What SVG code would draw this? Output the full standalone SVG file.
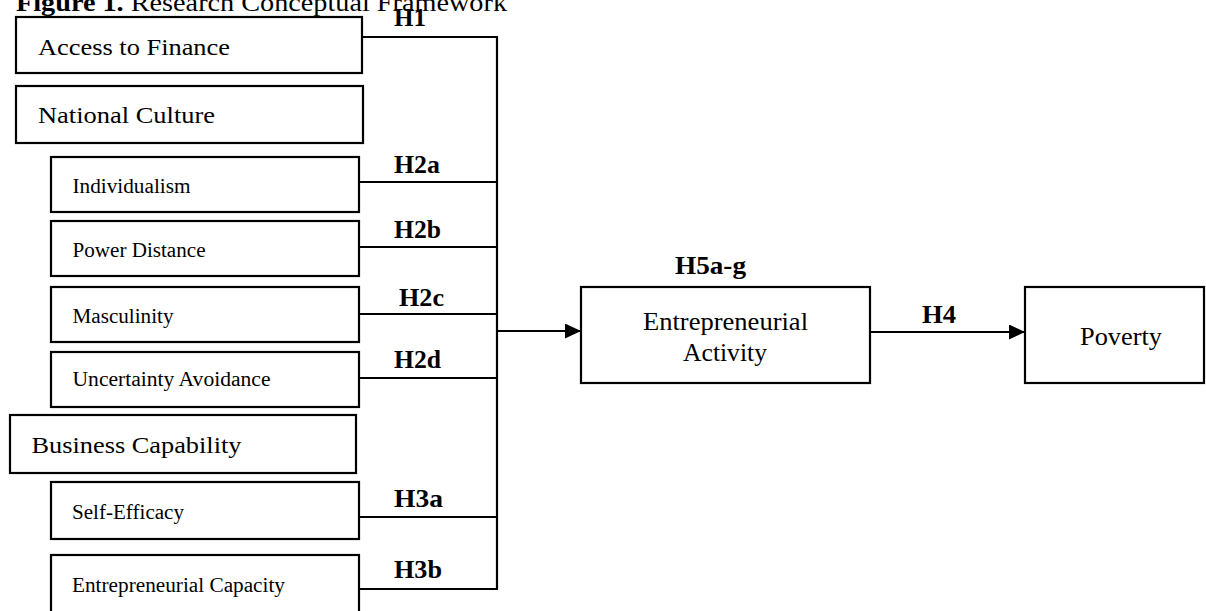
<svg xmlns="http://www.w3.org/2000/svg" width="1206" height="611" viewBox="0 0 1206 611">
<style>
.box{fill:#fff;stroke:#000;stroke-width:2.2}
.ln{fill:none;stroke:#000;stroke-width:2.2}
text{font-family:"Liberation Serif","Times New Roman",serif;fill:#000}
.big{font-size:23px}
.sm{font-size:20px}
.main{font-size:26px}
.h{font-size:26px;font-weight:bold}
</style>
<defs>
<marker id="arr" markerUnits="userSpaceOnUse" markerWidth="17" markerHeight="16" refX="16" refY="7.5" orient="auto">
<path d="M0,0 L16,7.5 L0,15 z" fill="#000"/>
</marker>
</defs>
<text x="16" y="11" font-size="25" textLength="491" lengthAdjust="spacingAndGlyphs"><tspan font-weight="bold">Figure 1.</tspan> Research Conceptual Framework</text>
<g id="connectors">
<polyline class="ln" points="362,37 497,37 497,589"/>
<line class="ln" x1="359" y1="182" x2="497" y2="182"/>
<line class="ln" x1="359" y1="247" x2="497" y2="247"/>
<line class="ln" x1="359" y1="314" x2="497" y2="314"/>
<line class="ln" x1="359" y1="378" x2="497" y2="378"/>
<line class="ln" x1="359" y1="517" x2="497" y2="517"/>
<line class="ln" x1="359" y1="589" x2="498" y2="589"/>
<line class="ln" x1="497" y1="331" x2="581" y2="331" marker-end="url(#arr)"/>
<line class="ln" x1="870" y1="332" x2="1025" y2="332" marker-end="url(#arr)"/>
<text class="h" x="394" y="26" textLength="32" lengthAdjust="spacingAndGlyphs">H1</text>
<text class="h" x="394" y="173" textLength="46" lengthAdjust="spacingAndGlyphs">H2a</text>
<text class="h" x="394" y="238" textLength="47" lengthAdjust="spacingAndGlyphs">H2b</text>
<text class="h" x="399" y="306" textLength="45" lengthAdjust="spacingAndGlyphs">H2c</text>
<text class="h" x="394" y="368" textLength="47" lengthAdjust="spacingAndGlyphs">H2d</text>
<text class="h" x="394" y="507" textLength="49" lengthAdjust="spacingAndGlyphs">H3a</text>
<text class="h" x="394" y="578" textLength="48" lengthAdjust="spacingAndGlyphs">H3b</text>
<text class="h" x="675" y="274" textLength="71" lengthAdjust="spacingAndGlyphs">H5a-g</text>
<text class="h" x="922" y="323" textLength="34" lengthAdjust="spacingAndGlyphs">H4</text>
</g>
<g id="access">
<rect class="box" x="16" y="17" width="346" height="56"/>
<text class="big" x="38" y="55" textLength="192" lengthAdjust="spacingAndGlyphs">Access to Finance</text>
</g>
<g id="national">
<rect class="box" x="16" y="86" width="347" height="57"/>
<text class="big" x="38" y="123" textLength="177" lengthAdjust="spacingAndGlyphs">National Culture</text>
</g>
<g id="individualism">
<rect class="box" x="51" y="157" width="308" height="55"/>
<text class="sm" x="72.5" y="193" textLength="118" lengthAdjust="spacingAndGlyphs">Individualism</text>
</g>
<g id="power">
<rect class="box" x="51" y="221" width="308" height="55"/>
<text class="sm" x="72.5" y="257" textLength="133" lengthAdjust="spacingAndGlyphs">Power Distance</text>
</g>
<g id="masculinity">
<rect class="box" x="51" y="287" width="308" height="55"/>
<text class="sm" x="72.5" y="323" textLength="101" lengthAdjust="spacingAndGlyphs">Masculinity</text>
</g>
<g id="uncertainty">
<rect class="box" x="51" y="352" width="308" height="55"/>
<text class="sm" x="72.5" y="386" textLength="198" lengthAdjust="spacingAndGlyphs">Uncertainty Avoidance</text>
</g>
<g id="business">
<rect class="box" x="10" y="415" width="346" height="58"/>
<text class="big" x="31.5" y="453" textLength="210" lengthAdjust="spacingAndGlyphs">Business Capability</text>
</g>
<g id="selfefficacy">
<rect class="box" x="51" y="482" width="308" height="57"/>
<text class="sm" x="72" y="519" textLength="112" lengthAdjust="spacingAndGlyphs">Self-Efficacy</text>
</g>
<g id="capacity">
<rect class="box" x="51" y="555" width="308" height="70"/>
<text class="sm" x="72" y="592" textLength="213" lengthAdjust="spacingAndGlyphs">Entrepreneurial Capacity</text>
</g>
<g id="activity">
<rect class="box" x="581" y="287" width="289" height="96"/>
<text class="main" x="643" y="330" textLength="165" lengthAdjust="spacingAndGlyphs">Entrepreneurial</text>
<text class="main" x="683" y="361" textLength="84" lengthAdjust="spacingAndGlyphs">Activity</text>
</g>
<g id="poverty">
<rect class="box" x="1025" y="287" width="179" height="96"/>
<text class="main" x="1080" y="345" textLength="82" lengthAdjust="spacingAndGlyphs">Poverty</text>
</g>
</svg>
